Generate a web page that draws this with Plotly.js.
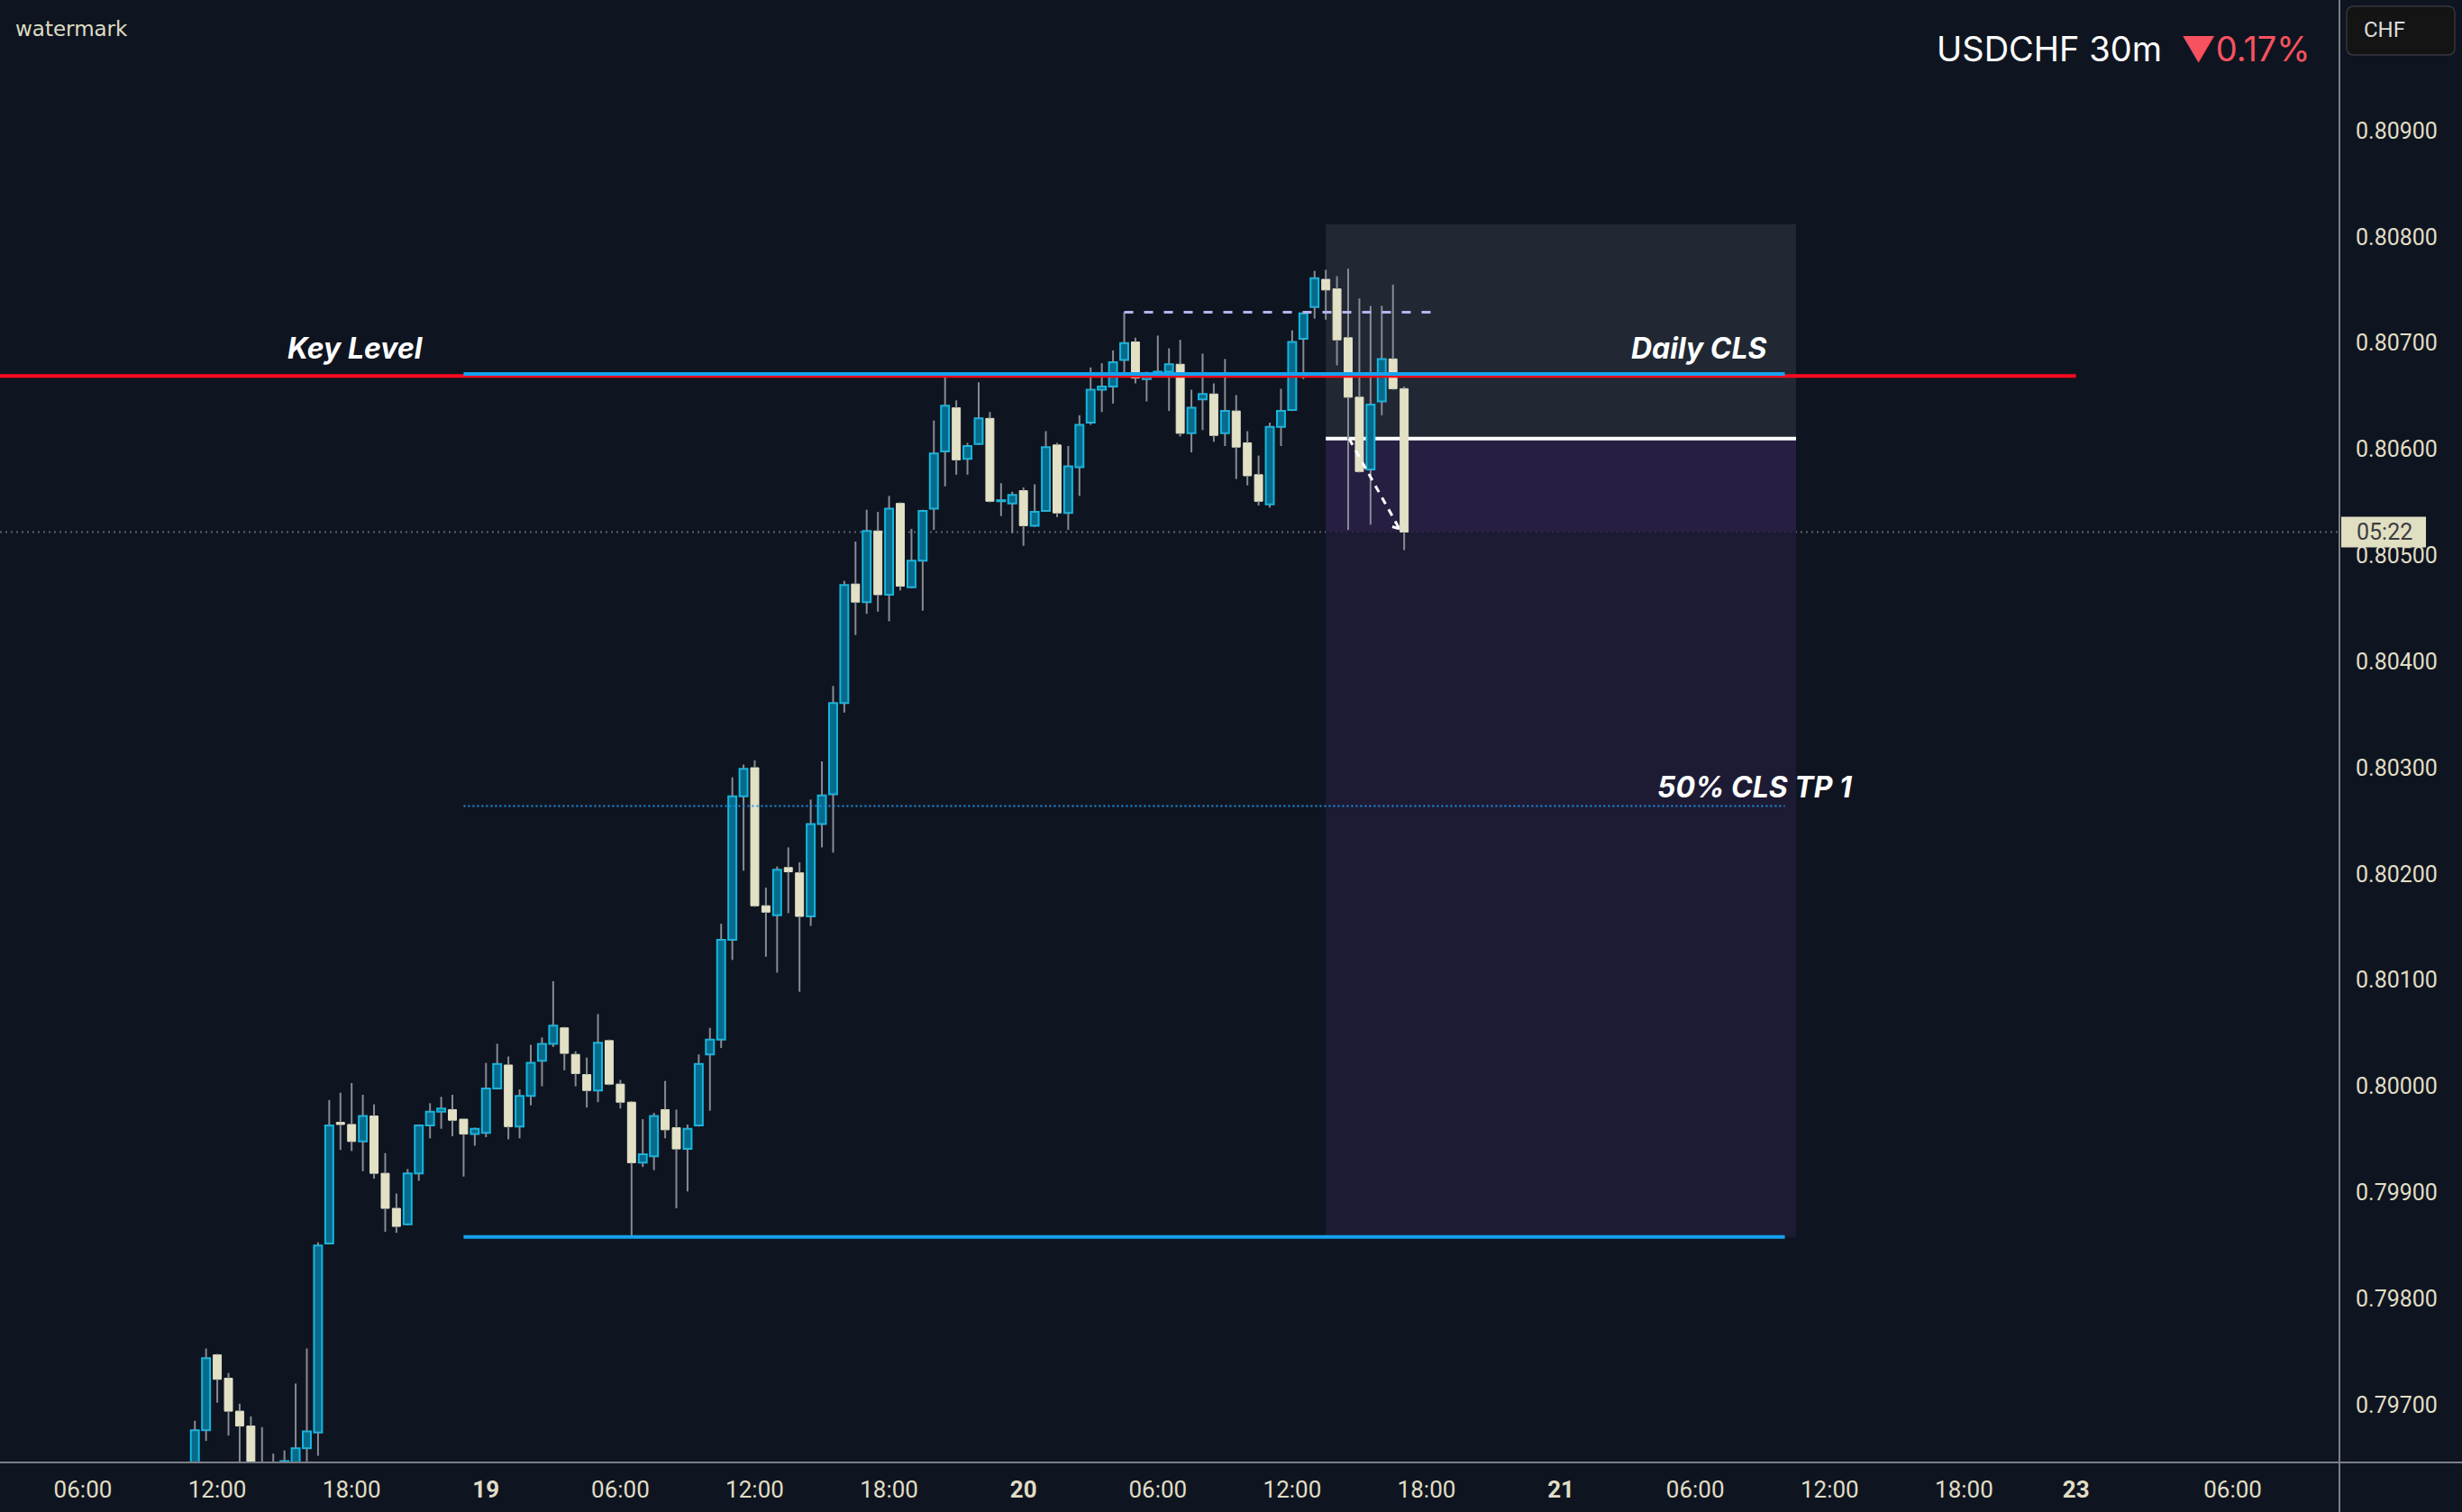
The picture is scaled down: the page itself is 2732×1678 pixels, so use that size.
<!DOCTYPE html>
<html><head><meta charset="utf-8">
<script src="https://cdn.plot.ly/plotly-3.0.1.min.js"></script>
<style>html,body{margin:0;padding:0;background:#0f1520;}#chart{width:2732px;height:1678px;}</style>
</head><body><div id="chart"></div>
<script>
// USDCHF 30m, bars from 18 Mar 11:00 (hours counted from 18 Mar 00:00)
const barStartHour = 11;
const barStepHours = 0.5;

const open = [
0.79640,0.79676,0.79747,0.79725,0.79694,0.79680,0.79632,0.79625,0.79615,0.79645,
0.79659,0.79674,0.79852,0.79966,0.79964,0.79948,0.79972,0.79918,0.79885,0.79870,
0.79918,0.79963,0.79976,0.79978,0.79969,0.79955,0.79956,0.79998,0.80020,0.79962,
0.79991,0.80024,0.80040,0.80055,0.80030,0.80011,0.79996,0.80043,0.80002,0.79985,
0.79928,0.79934,0.79978,0.79961,0.79941,0.79963,0.80030,0.80044,0.80138,0.80273,
0.80300,0.80170,0.80161,0.80206,0.80201,0.80160,0.80247,0.80275,0.80361,0.80473,
0.80456,0.80523,0.80463,0.80549,0.80470,0.80495,0.80544,0.80598,0.80639,0.80591,
0.80605,0.80629,0.80551,0.80549,0.80561,0.80528,0.80542,0.80604,0.80540,0.80583,
0.80625,0.80656,0.80659,0.80684,0.80701,0.80666,0.80670,0.80673,0.80680,0.80615,
0.80647,0.80652,0.80615,0.80636,0.80606,0.80576,0.80548,0.80621,0.80637,0.80704,
0.80734,0.80760,0.80751,0.80705,0.80649,0.80581,0.80645,0.80685,0.80657];
const high = [
0.79685,0.79753,0.79748,0.79730,0.79701,0.79689,0.79679,0.79654,0.79657,0.79720,
0.79753,0.79853,0.79987,0.79994,0.80003,0.79992,0.79983,0.79937,0.79899,0.79922,
0.79964,0.79984,0.79990,0.79992,0.79969,0.79961,0.80022,0.80040,0.80028,0.79997,
0.80039,0.80046,0.80099,0.80056,0.80033,0.80027,0.80068,0.80044,0.80006,0.79986,
0.79969,0.79975,0.80005,0.79978,0.79964,0.80030,0.80055,0.80153,0.80291,0.80303,
0.80307,0.80187,0.80207,0.80225,0.80211,0.80270,0.80306,0.80377,0.80476,0.80513,
0.80543,0.80541,0.80556,0.80550,0.80525,0.80543,0.80627,0.80671,0.80646,0.80606,
0.80663,0.80635,0.80568,0.80560,0.80564,0.80567,0.80617,0.80606,0.80603,0.80632,
0.80677,0.80681,0.80693,0.80729,0.80705,0.80673,0.80707,0.80695,0.80703,0.80656,
0.80690,0.80662,0.80685,0.80651,0.80617,0.80594,0.80625,0.80657,0.80712,0.80729,
0.80768,0.80769,0.80763,0.80770,0.80742,0.80735,0.80735,0.80755,0.80659];
const low = [
0.79625,0.79666,0.79702,0.79671,0.79640,0.79618,0.79610,0.79600,0.79605,0.79630,
0.79635,0.79652,0.79851,0.79940,0.79939,0.79920,0.79913,0.79863,0.79862,0.79869,
0.79911,0.79951,0.79960,0.79953,0.79915,0.79944,0.79952,0.79997,0.79950,0.79951,
0.79982,0.80000,0.80037,0.80015,0.80000,0.79980,0.79985,0.80001,0.79979,0.79858,
0.79924,0.79921,0.79951,0.79885,0.79901,0.79962,0.79977,0.80036,0.80119,0.80203,
0.80169,0.80122,0.80107,0.80163,0.80089,0.80151,0.80225,0.80220,0.80352,0.80425,
0.80445,0.80447,0.80438,0.80467,0.80469,0.80448,0.80524,0.80565,0.80576,0.80576,
0.80604,0.80550,0.80537,0.80521,0.80509,0.80527,0.80541,0.80536,0.80524,0.80556,
0.80623,0.80635,0.80643,0.80669,0.80662,0.80645,0.80669,0.80636,0.80612,0.80597,
0.80618,0.80607,0.80603,0.80572,0.80566,0.80547,0.80545,0.80603,0.80636,0.80666,
0.80723,0.80722,0.80679,0.80524,0.80578,0.80529,0.80632,0.80656,0.80505];
const close = [
0.79676,0.79744,0.79724,0.79694,0.79680,0.79630,0.79625,0.79615,0.79647,0.79659,
0.79675,0.79850,0.79963,0.79964,0.79948,0.79972,0.79918,0.79885,0.79868,0.79918,
0.79963,0.79976,0.79979,0.79968,0.79955,0.79960,0.79998,0.80021,0.79962,0.79991,
0.80022,0.80040,0.80057,0.80031,0.80012,0.79996,0.80041,0.80002,0.79985,0.79928,
0.79936,0.79972,0.79959,0.79941,0.79960,0.80021,0.80044,0.80138,0.80273,0.80299,
0.80170,0.80164,0.80204,0.80202,0.80160,0.80247,0.80274,0.80361,0.80472,0.80456,
0.80523,0.80463,0.80544,0.80471,0.80495,0.80542,0.80596,0.80641,0.80590,0.80603,
0.80629,0.80551,0.80552,0.80557,0.80528,0.80541,0.80602,0.80540,0.80584,0.80623,
0.80656,0.80659,0.80682,0.80700,0.80667,0.80670,0.80673,0.80680,0.80615,0.80639,
0.80652,0.80613,0.80636,0.80602,0.80575,0.80551,0.80621,0.80636,0.80701,0.80728,
0.80761,0.80750,0.80703,0.80649,0.80579,0.80642,0.80685,0.80657,0.80522];

const tickHours  = [6, 12, 18, 24, 30, 36, 42, 48, 54, 60, 66, 72, 78, 84, 90, 95, 102];
const tickLabels = ['06:00','12:00','18:00','<b>19</b>','06:00','12:00','18:00','<b>20</b>',
                    '06:00','12:00','18:00','<b>21</b>','06:00','12:00','18:00','<b>23</b>','06:00'];
const priceTicks = [0.797,0.798,0.799,0.800,0.801,0.802,0.803,0.804,0.805,0.806,0.807,0.808,0.809];

// drawn levels
const keyLevel   = 0.80669;
const clsHigh    = 0.80671;
const clsLow     = 0.79858;
const clsTP1     = 0.80264;
const sweepHigh  = 0.80729;
const posEntry   = 0.80610;
const posStop    = 0.80812;
const posTarget  = 0.79858;
const lastPrice  = 0.80522;
const arrowFrom  = [62.54, 0.80610];
const arrowTo    = [64.79, 0.80525];

// ---------- traces ----------
const xs = open.map((_, i) => barStartHour + i * barStepHours);
const isUp = open.map((o, i) => close[i] >= o);
const UP_FILL = '#086a8b', UP_LINE = '#14b6df', DN_FILL = '#e2e1c6', WICK = '#878b95';

const bodies = {
  type: 'bar', x: xs,
  base: open.map((o, i) => Math.min(o, close[i])),
  y: open.map((o, i) => Math.abs(close[i] - o)),
  width: 0.36,
  marker: {
    color: isUp.map(u => u ? UP_FILL : DN_FILL),
    line: { color: isUp.map(u => u ? UP_LINE : DN_FILL), width: isUp.map(u => u ? 2 : 1) }
  },
  hoverinfo: 'skip'
};

const wx = [], wy = [];
xs.forEach((x, i) => {
  const top = Math.max(open[i], close[i]), bot = Math.min(open[i], close[i]);
  if (high[i] > top) { wx.push(x, x, null); wy.push(high[i], top, null); }
  if (low[i] < bot)  { wx.push(x, x, null); wy.push(bot, low[i], null); }
});
const wicks = { type: 'scatter', mode: 'lines', x: wx, y: wy, line: { color: WICK, width: 2 }, hoverinfo: 'skip', connectgaps: false };

// ---------- helpers ----------
const PW = 2596, PH = 1623;
function rrect(x0, x1, y0, y1, r) {
  const rx = r / PW, ry = r / PH;
  return `M${x0+rx},${y1} L${x1-rx},${y1} Q${x1},${y1} ${x1},${y1-ry} L${x1},${y0+ry} Q${x1},${y0} ${x1-rx},${y0} ` +
         `L${x0+rx},${y0} Q${x0},${y0} ${x0},${y0+ry} L${x0},${y1-ry} Q${x0},${y1} ${x0+rx},${y1} Z`;
}
const hline = (x0, x1, y, color, width, dash, layer) => ({ type: 'line', xref: 'x', yref: 'y', x0, x1, y0: y, y1: y, line: { color, width, dash: dash || 'solid' }, layer: layer || 'above' });

const shapes = [
  // position tool
  { type: 'rect', xref: 'x', yref: 'y', x0: 61.5, x1: 82.5, y0: posEntry, y1: posStop, fillcolor: '#212833', line: { width: 0 }, layer: 'below' },
  { type: 'rect', xref: 'x', yref: 'y', x0: 61.5, x1: 82.5, y0: lastPrice, y1: posEntry, fillcolor: '#261f42', line: { width: 0 }, layer: 'below' },
  { type: 'rect', xref: 'x', yref: 'y', x0: 61.5, x1: 82.5, y0: posTarget, y1: lastPrice, fillcolor: '#1d1b33', line: { width: 0 }, layer: 'below' },
  // current price dotted
  { type: 'line', xref: 'paper', yref: 'y', x0: 0, x1: 1, y0: lastPrice, y1: lastPrice, line: { color: '#5e626b', width: 2, dash: '2px,4px' }, layer: 'below' },
  hline(61.5, 82.5, posEntry, '#ffffff', 4, 'solid', 'below'),
  hline(0, 95, keyLevel, '#ff0a1e', 4),
  hline(23, 82, clsHigh, '#15a2f0', 4),
  hline(23, 82, clsLow, '#15a2f0', 4),
  hline(23, 82, clsTP1, '#1d8fe8', 2, '2px,3px'),
  hline(52.5, 66.24, sweepHigh, '#b6b2ee', 3, '10px,12px'),
  { type: 'line', xref: 'x', yref: 'y', x0: arrowFrom[0], y0: arrowFrom[1], x1: arrowTo[0], y1: arrowTo[1], line: { color: '#ffffff', width: 3, dash: '8px,7px' }, layer: 'above' },
  { type: 'line', xref: 'x', yref: 'y', x0: arrowTo[0] - 0.32, y0: arrowTo[1] + 0.00002, x1: arrowTo[0], y1: arrowTo[1], line: { color: '#ffffff', width: 3 }, layer: 'above' },
  // axis frame lines
  { type: 'line', xref: 'paper', yref: 'paper', x0: 0, x1: 2732 / PW, y0: 0, y1: 0, line: { color: '#7b7e87', width: 2 }, layer: 'above' },
  { type: 'line', xref: 'paper', yref: 'paper', x0: 1, x1: 1, y0: -55 / PH, y1: 1, line: { color: '#7b7e87', width: 2 }, layer: 'above' },
  // CHF box
  { type: 'path', xref: 'paper', yref: 'paper', path: rrect(2604 / PW, 2724 / PW, 1 - 61 / PH, 1 - 7 / PH, 8), fillcolor: '#141415', line: { color: '#34363d', width: 1.5 }, layer: 'above' },
  // countdown label on price axis
  { type: 'rect', xref: 'paper', yref: 'y', xsizemode: 'pixel', xanchor: 1, x0: 2, x1: 96, ysizemode: 'pixel', yanchor: lastPrice, y0: -17, y1: 17, fillcolor: '#e1dfc2', line: { width: 0 }, layer: 'above' }
];

const labelFont = { family: 'Inter, Roboto, sans-serif', size: 32, color: '#ffffff', weight: 'bold', style: 'italic' };
const annotations = [
  { xref: 'x', yref: 'y', x: 18.18, y: 0.80695, text: 'Key Level', showarrow: false, font: labelFont, xanchor: 'center', yanchor: 'middle' },
  { xref: 'x', yref: 'y', x: 78.18, y: 0.80695, text: 'Daily CLS', showarrow: false, font: labelFont, xanchor: 'center', yanchor: 'middle' },
  { xref: 'x', yref: 'y', x: 80.65, y: 0.80282, text: '50% CLS TP 1', showarrow: false, font: labelFont, xanchor: 'center', yanchor: 'middle' },
  { xref: 'paper', yref: 'paper', x: 2566 / PW, y: 1 - 54 / PH, xanchor: 'right', yanchor: 'middle', showarrow: false,
    text: 'USDCHF 30m&nbsp;&nbsp;<span style="color:#f7525f">▼0.17%</span>', font: { family: 'Inter, Roboto, sans-serif', size: 38, color: '#ffffff' } },
  { xref: 'paper', yref: 'paper', x: 2621 / PW, y: 1 - 33 / PH, xanchor: 'left', yanchor: 'middle', showarrow: false,
    text: 'CHF', font: { family: 'Roboto, sans-serif', size: 24, color: '#dcdcdc' } },
  { xref: 'paper', yref: 'paper', x: 15 / PW, y: 1 - 32 / PH, xanchor: 'left', yanchor: 'middle', showarrow: false,
    text: 'watermark', font: { family: 'DejaVu Sans, sans-serif', size: 23, color: '#dedcc4' } },
  { xref: 'paper', yref: 'y', x: 2613 / PW, y: lastPrice, xanchor: 'left', yanchor: 'middle', showarrow: false,
    text: '05:22', font: { family: 'Roboto, sans-serif', size: 25, color: '#3c3d40' } }
];

const tickFont = { family: 'Roboto, sans-serif', size: 25, color: '#e0dec6' };
const layout = {
  width: 2732, height: 1678,
  margin: { l: 0, r: 136, t: 0, b: 55, pad: 0 },
  paper_bgcolor: '#0f1520', plot_bgcolor: '#0f1520',
  showlegend: false, barmode: 'overlay', hovermode: false,
  xaxis: { type: 'linear', range: [2.298, 106.765], tickmode: 'array', tickvals: tickHours, ticktext: tickLabels,
           showgrid: false, zeroline: false, showline: false, ticks: '', tickfont: Object.assign({}, tickFont, { size: 26 }),
           ticklabelstandoff: 12, fixedrange: true },
  yaxis: { side: 'right', range: [0.796457, 0.810231], tickmode: 'array', tickvals: priceTicks,
           ticktext: priceTicks.map(v => v.toFixed(5)),
           showgrid: false, zeroline: false, showline: false, ticks: '', tickfont: tickFont,
           ticklabelstandoff: 17, fixedrange: true },
  shapes, annotations
};

Plotly.newPlot('chart', [bodies, wicks], layout, { displayModeBar: false, staticPlot: true });
</script>
</body></html>
